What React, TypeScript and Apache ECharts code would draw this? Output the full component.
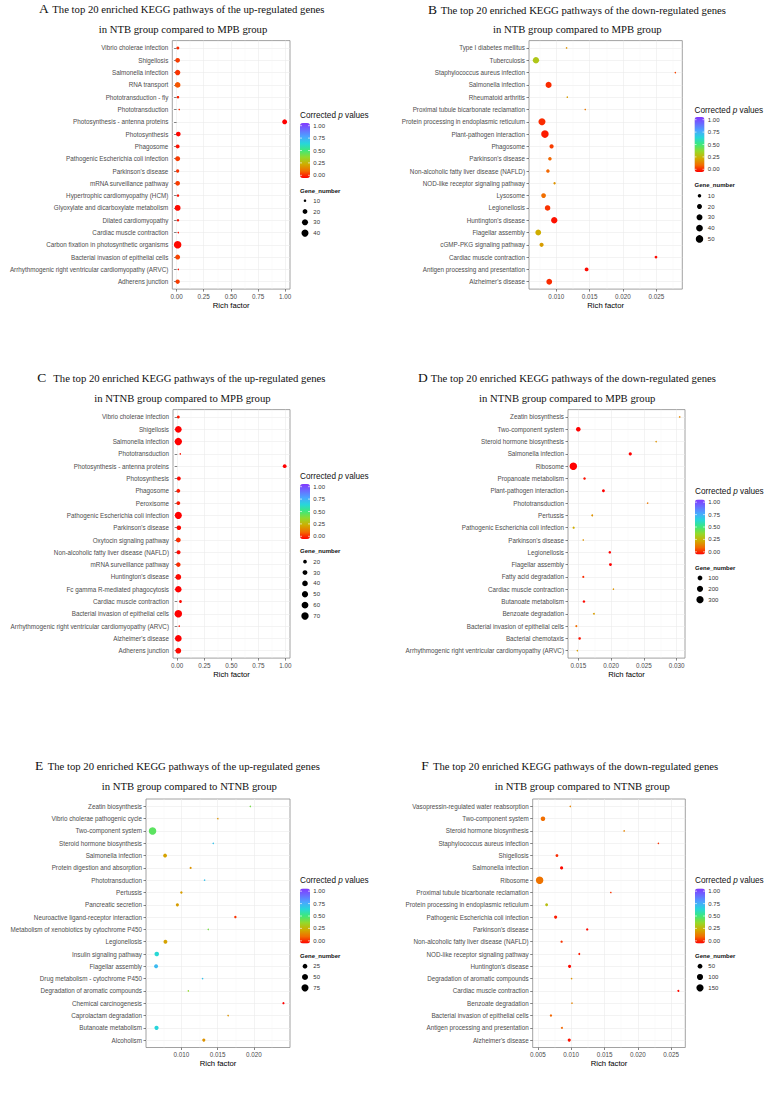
import React, { useEffect, useRef } from 'react';
import * as echarts from 'echarts';

// ---------- Panel A ----------
const catsA = ['Vibrio cholerae infection', 'Shigellosis', 'Salmonella infection', 'RNA transport', 'Phototransduction - fly', 'Phototransduction', 'Photosynthesis - antenna proteins', 'Photosynthesis', 'Phagosome', 'Pathogenic Escherichia coli infection', "Parkinson's disease", 'mRNA surveillance pathway', 'Hypertrophic cardiomyopathy (HCM)', 'Glyoxylate and dicarboxylate metabolism', 'Dilated cardiomyopathy', 'Cardiac muscle contraction', 'Carbon fixation in photosynthetic organisms', 'Bacterial invasion of epithelial cells', 'Arrhythmogenic right ventricular cardiomyopathy (ARVC)', 'Adherens junction'];
const richA = [0.012, 0.010, 0.010, 0.010, 0.013, 0.025, 0.995, 0.016, 0.010, 0.010, 0.010, 0.010, 0.013, 0.010, 0.013, 0.016, 0.010, 0.010, 0.016, 0.010];
const padjA = [0.05, 0.07, 0.06, 0.1, 0.04, 0.05, 0.0, 0.005, 0.02, 0.07, 0.06, 0.07, 0.02, 0.01, 0.02, 0.02, 0.01, 0.08, 0.02, 0.07];
const genesA = [11, 19, 24, 26, 10, 9, 21, 19, 15, 21, 12, 19, 10, 28, 10, 9, 45, 21, 9, 17];
const ticksA = [0, 0.25, 0.5, 0.75, 1];
const breaksA = [10, 20, 30, 40];

// ---------- Panel B ----------
const catsB = ['Type I diabetes mellitus', 'Tuberculosis', 'Staphylococcus aureus infection', 'Salmonella infection', 'Rheumatoid arthritis', 'Proximal tubule bicarbonate reclamation', 'Protein processing in endoplasmic reticulum', 'Plant-pathogen interaction', 'Phagosome', "Parkinson's disease", 'Non-alcoholic fatty liver disease (NAFLD)', 'NOD-like receptor signaling pathway', 'Lysosome', 'Legionellosis', "Huntington's disease", 'Flagellar assembly', 'cGMP-PKG signaling pathway', 'Cardiac muscle contraction', 'Antigen processing and presentation', "Alzheimer's disease"];
const richB = [0.01155, 0.00696, 0.02785, 0.00885, 0.01165, 0.01435, 0.00786, 0.0083, 0.0093, 0.00905, 0.00875, 0.00975, 0.0081, 0.0087, 0.0097, 0.0073, 0.0078, 0.02495, 0.01455, 0.00895];
const padjB = [0.2, 0.32, 0.08, 0.05, 0.22, 0.15, 0.05, 0.03, 0.07, 0.12, 0.12, 0.2, 0.13, 0.06, 0.02, 0.25, 0.22, 0.01, 0.01, 0.05];
const genesB = [5, 35, 5, 31, 5, 5, 43, 50, 14, 10, 10, 6, 18, 25, 35, 28, 14, 7, 12, 28];
const ticksB = [0.01, 0.015, 0.02, 0.025];
const breaksB = [10, 20, 30, 40, 50];

// ---------- Panel C ----------
const catsC = ['Vibrio cholerae infection', 'Shigellosis', 'Salmonella infection', 'Phototransduction', 'Photosynthesis - antenna proteins', 'Photosynthesis', 'Phagosome', 'Peroxisome', 'Pathogenic Escherichia coli infection', "Parkinson's disease", 'Oxytocin signaling pathway', 'Non-alcoholic fatty liver disease (NAFLD)', 'mRNA surveillance pathway', "Huntington's disease", 'Fc gamma R-mediated phagocytosis', 'Cardiac muscle contraction', 'Bacterial invasion of epithelial cells', 'Arrhythmogenic right ventricular cardiomyopathy (ARVC)', "Alzheimer's disease", 'Adherens junction'];
const richC = [0.01, 0.01, 0.01, 0.028, 0.994, 0.015, 0.01, 0.01, 0.01, 0.015, 0.01, 0.012, 0.01, 0.01, 0.01, 0.03, 0.01, 0.018, 0.01, 0.01];
const padjC = [0.03, 0.0, 0.0, 0.02, 0.0, 0.01, 0.03, 0.03, 0.0, 0.01, 0.05, 0.01, 0.05, 0.01, 0.0, 0.01, 0.0, 0.02, 0.0, 0.01];
const genesC = [15, 57, 70, 12, 21, 21, 21, 21, 63, 27, 30, 23, 27, 42, 53, 15, 72, 12, 57, 42];
const ticksC = [0, 0.25, 0.5, 0.75, 1];
const breaksC = [20, 30, 40, 50, 60, 70];

// ---------- Panel D ----------
const catsD = ['Zeatin biosynthesis', 'Two-component system', 'Steroid hormone biosynthesis', 'Salmonella infection', 'Ribosome', 'Propanoate metabolism', 'Plant-pathogen interaction', 'Phototransduction', 'Pertussis', 'Pathogenic Escherichia coli infection', "Parkinson's disease", 'Legionellosis', 'Flagellar assembly', 'Fatty acid degradation', 'Cardiac muscle contraction', 'Butanoate metabolism', 'Benzoate degradation', 'Bacterial invasion of epithelial cells', 'Bacterial chemotaxis', 'Arrhythmogenic right ventricular cardiomyopathy (ARVC)'];
const richD = [0.03045, 0.0150, 0.02686, 0.02292, 0.01424, 0.01595, 0.01883, 0.02556, 0.01712, 0.01429, 0.01576, 0.0198, 0.0199, 0.01576, 0.02035, 0.01586, 0.01738, 0.0147, 0.0152, 0.01485];
const padjD = [0.18, 0.0, 0.2, 0.0, 0.0, 0.02, 0.0, 0.15, 0.2, 0.25, 0.2, 0.0, 0.0, 0.05, 0.2, 0.01, 0.22, 0.13, 0.02, 0.22];
const genesD = [3, 85, 3, 28, 330, 13, 20, 3, 4, 7, 3, 13, 20, 7, 3, 13, 4, 7, 13, 3];
const ticksD = [0.015, 0.02, 0.025, 0.03];
const breaksD = [100, 200, 300];

// ---------- Panel E ----------
const catsE = ['Zeatin biosynthesis', 'Vibrio cholerae pathogenic cycle', 'Two-component system', 'Steroid hormone biosynthesis', 'Salmonella infection', 'Protein digestion and absorption', 'Phototransduction', 'Pertussis', 'Pancreatic secretion', 'Neuroactive ligand-receptor interaction', 'Metabolism of xenobiotics by cytochrome P450', 'Legionellosis', 'Insulin signaling pathway', 'Flagellar assembly', 'Drug metabolism - cytochrome P450', 'Degradation of aromatic compounds', 'Chemical carcinogenesis', 'Caprolactam degradation', 'Butanoate metabolism', 'Alcoholism'];
const richE = [0.01952, 0.01503, 0.00602, 0.0144, 0.00775, 0.01128, 0.0132, 0.0100, 0.00945, 0.01746, 0.01371, 0.0078, 0.0066, 0.00651, 0.01293, 0.01096, 0.0241, 0.01646, 0.00657, 0.0131];
const padjE = [0.42, 0.2, 0.46, 0.68, 0.23, 0.2, 0.68, 0.22, 0.22, 0.06, 0.42, 0.23, 0.62, 0.7, 0.68, 0.38, 0.0, 0.2, 0.63, 0.2];
const genesE = [3, 3, 85, 3, 16, 4, 3, 5, 9, 5, 3, 16, 24, 16, 3, 3, 4, 3, 20, 9];
const ticksE = [0.01, 0.015, 0.02];
const breaksE = [25, 50, 75];

// ---------- Panel F ----------
const catsF = ['Vasopressin-regulated water reabsorption', 'Two-component system', 'Steroid hormone biosynthesis', 'Staphylococcus aureus infection', 'Shigellosis', 'Salmonella infection', 'Ribosome', 'Proximal tubule bicarbonate reclamation', 'Protein processing in endoplasmic reticulum', 'Pathogenic Escherichia coli infection', "Parkinson's disease", 'Non-alcoholic fatty liver disease (NAFLD)', 'NOD-like receptor signaling pathway', "Huntington's disease", 'Degradation of aromatic compounds', 'Cardiac muscle contraction', 'Benzoate degradation', 'Bacterial invasion of epithelial cells', 'Antigen processing and presentation', "Alzheimer's disease"];
const richF = [0.00985, 0.00575, 0.01795, 0.0231, 0.00785, 0.00855, 0.00525, 0.01595, 0.0063, 0.00765, 0.0124, 0.00855, 0.0112, 0.00975, 0.01005, 0.0261, 0.0101, 0.00695, 0.0086, 0.0097];
const padjF = [0.17, 0.13, 0.17, 0.06, 0.05, 0.01, 0.14, 0.06, 0.3, 0.03, 0.01, 0.06, 0.03, 0.01, 0.2, 0.01, 0.17, 0.12, 0.12, 0.02];
const genesF = [4, 46, 4, 4, 12, 16, 165, 4, 12, 16, 7, 7, 5, 16, 4, 5, 4, 7, 5, 16];
const ticksF = [0.005, 0.01, 0.015, 0.02, 0.025];
const breaksF = [50, 100, 150];

const colorBreaks = [1, 0.75, 0.5, 0.25, 0];
const PALETTE = ['#ff0000', '#f26b00', '#cfad00', '#95d92a', '#3fe87a', '#27d7d9', '#4aa6ff', '#6a6cff', '#8338ff'];

const SANS = 'Liberation Sans, Arial, sans-serif';
const SERIF = 'Liberation Serif, Times New Roman, serif';

const H = 248.5;
const layA = { left: 172.3, top: 40.6, width: 117.7, height: H, letterX: 39, line1X: 52.3, y1: 8.5, line2X: 98.7, y2: 28.5, legX: 300, legTitleY: 115.7, barTop: 123, gnTitleY: 190.7, gnY0: 200.7, gnStep: 10.8 };
const layB = { left: 529, top: 40.6, width: 153.3, height: H, letterX: 428, line1X: 440.7, y1: 9, line2X: 493, y2: 29, legX: 694.5, legTitleY: 110.3, barTop: 117, gnTitleY: 185, gnY0: 195.7, gnStep: 10.8 };
const layC = { left: 173, top: 409.6, width: 117, height: H, letterX: 37.3, line1X: 53.3, y1: 377.5, line2X: 94.3, y2: 397.5, legX: 300, legTitleY: 476.5, barTop: 484, gnTitleY: 551, gnY0: 561.7, gnStep: 10.85 };
const layD = { left: 568, top: 409.6, width: 117, height: H, letterX: 418, line1X: 430.7, y1: 377.5, line2X: 479, y2: 397.5, legX: 695, legTitleY: 491, barTop: 499.5, gnTitleY: 567.5, gnY0: 578, gnStep: 10.85 };
const layE = { left: 146, top: 799, width: 144, height: H, letterX: 35, line1X: 47.7, y1: 765.5, line2X: 101.7, y2: 785.5, legX: 300, legTitleY: 880.5, barTop: 888.5, gnTitleY: 955.5, gnY0: 966.2, gnStep: 10.8 };
const layF = { left: 532.7, top: 799, width: 152.6, height: H, letterX: 421.3, line1X: 433, y1: 765.5, line2X: 494.7, y2: 785.5, legX: 695, legTitleY: 880.5, barTop: 888.5, gnTitleY: 955.5, gnY0: 966.2, gnStep: 10.8 };

const UP = 'The top 20 enriched KEGG pathways of the up-regulated genes';
const DOWN = 'The top 20 enriched KEGG pathways of the down-regulated genes';

const panels = [
  { letter: 'A', line1: UP, line2: 'in NTB group compared to MPB group', cats: catsA, rich: richA, padj: padjA, genes: genesA, ticks: ticksA, digits: 2, breaks: breaksA, lay: layA },
  { letter: 'B', line1: DOWN, line2: 'in NTB group compared to MPB group', cats: catsB, rich: richB, padj: padjB, genes: genesB, ticks: ticksB, digits: 3, breaks: breaksB, lay: layB },
  { letter: 'C', line1: UP, line2: 'in NTNB group compared to MPB group', cats: catsC, rich: richC, padj: padjC, genes: genesC, ticks: ticksC, digits: 2, breaks: breaksC, lay: layC },
  { letter: 'D', line1: DOWN, line2: 'in NTNB group compared to MPB group', cats: catsD, rich: richD, padj: padjD, genes: genesD, ticks: ticksD, digits: 3, breaks: breaksD, lay: layD },
  { letter: 'E', line1: UP, line2: 'in NTB group compared to NTNB group', cats: catsE, rich: richE, padj: padjE, genes: genesE, ticks: ticksE, digits: 3, breaks: breaksE, lay: layE },
  { letter: 'F', line1: DOWN, line2: 'in NTB group compared to NTNB group', cats: catsF, rich: richF, padj: padjF, genes: genesF, ticks: ticksF, digits: 3, breaks: breaksF, lay: layF },
];

function txt(x: number, y: number, text: string, opts: any = {}) {
  return {
    type: 'text', x, y, silent: true,
    style: {
      text, fontSize: 6, fontFamily: SANS, fill: '#222',
      align: 'left', textAlign: 'left', verticalAlign: 'middle', textVerticalAlign: 'middle',
      ...opts,
    },
  };
}

export default function App() {
  const ref = useRef<HTMLDivElement>(null);
  useEffect(() => {
    if (!ref.current) return;
    const chart = echarts.init(ref.current, null, { renderer: 'svg' });
    const grid: any[] = [];
    const xAxis: any[] = [];
    const yAxis: any[] = [];
    const series: any[] = [];
    const visualMap: any[] = [];
    const graphic: any[] = [];

    panels.forEach((p, i) => {
      const L = p.lay;
      const n = p.cats.length;
      const r0 = Math.min(...p.rich);
      const r1 = Math.max(...p.rich);
      const pad = (r1 - r0) * 0.05;
      const xmin = r0 - pad;
      const xmax = r1 + pad;
      const gmin = Math.min(...p.genes);
      const gmax = Math.max(...p.genes);
      const sz = (g: number) => 1.5 + 6 * Math.sqrt(Math.max(0, (g - gmin) / (gmax - gmin)));

      grid.push({ left: L.left, top: L.top, width: L.width, height: L.height, show: true, borderColor: '#8a8a8a', borderWidth: 0.8, backgroundColor: '#ffffff' });

      const step = p.ticks[1] - p.ticks[0];
      const minor: number[] = [];
      for (let k = -1; k < p.ticks.length; k++) {
        const v = p.ticks[0] + (k + 0.5) * step;
        if (v > xmin && v < xmax) minor.push(v);
      }
      xAxis.push({
        type: 'value', gridIndex: i, min: xmin, max: xmax, position: 'bottom',
        name: 'Rich factor', nameLocation: 'middle', nameGap: 12,
        nameTextStyle: { fontSize: 7.7, color: '#000', fontFamily: SANS },
        axisLine: { show: false },
        axisTick: { show: true, length: 2.5, customValues: p.ticks, lineStyle: { color: '#333', width: 0.6 } },
        axisLabel: { customValues: p.ticks, formatter: (v: number) => v.toFixed(p.digits), fontSize: 6.3, color: '#4d4d4d', margin: 4, fontFamily: SANS },
        splitLine: { show: true, lineStyle: { color: '#ebebeb', width: 0.6 } },
      });
      xAxis.push({
        type: 'value', gridIndex: i, min: xmin, max: xmax, position: 'top',
        axisLine: { show: false },
        axisTick: { show: false, customValues: minor },
        axisLabel: { show: false, customValues: minor },
        splitLine: { show: true, lineStyle: { color: '#f3f3f3', width: 0.4 } },
      });
      const yt = Array.from({ length: n }, (_, k) => k + 1);
      yAxis.push({
        type: 'value', gridIndex: i, min: 0.4, max: n + 0.6,
        axisLine: { show: false },
        axisTick: { show: true, length: 2.5, customValues: yt, lineStyle: { color: '#333', width: 0.6 } },
        axisLabel: { customValues: yt, formatter: (v: number) => p.cats[n - Math.round(v)] || '', fontSize: 6.3, color: '#4d4d4d', margin: 4, fontFamily: SANS },
        splitLine: { show: true, lineStyle: { color: '#ebebeb', width: 0.6 } },
      });
      series.push({
        type: 'scatter', xAxisIndex: 2 * i, yAxisIndex: i, silent: true,
        data: p.rich.map((r, k) => [r, n - k, p.padj[k], p.genes[k]]),
        symbolSize: (val: number[]) => sz(val[3]),
        itemStyle: { opacity: 1 },
      });
      visualMap.push({
        type: 'continuous', seriesIndex: i, dimension: 2, min: 0, max: 1,
        inRange: { color: PALETTE }, calculable: false, show: true, hoverLink: false,
        left: L.legX, top: L.barTop, itemWidth: 10, itemHeight: 55, padding: 0, orient: 'vertical',
      });

      // titles
      graphic.push(txt(L.letterX, L.y1, p.letter, { fontSize: 13.5, fontFamily: SERIF, fill: '#111' }));
      graphic.push(txt(L.line1X, L.y1 + 0.5, p.line1, { fontSize: 10.7, fontFamily: SERIF, fill: '#111' }));
      graphic.push(txt(L.line2X, L.y2, p.line2, { fontSize: 10.7, fontFamily: SERIF, fill: '#111' }));

      // colour legend
      graphic.push({
        type: 'text', x: L.legX, y: L.legTitleY, silent: true,
        style: {
          text: '{n|Corrected }{i|p}{n| values}', fontFamily: SANS, fontSize: 8.2, fill: '#111',
          align: 'left', textAlign: 'left', verticalAlign: 'middle', textVerticalAlign: 'middle',
          rich: { n: { fontSize: 8.2, fontFamily: SANS, fill: '#111' }, i: { fontSize: 8.2, fontFamily: SANS, fontStyle: 'italic', fill: '#111' } },
        },
      });
      colorBreaks.forEach((b) => {
        const y = L.barTop + 2.7 + (1 - b) * 49.6;
        graphic.push(txt(L.legX + 13.3, y, b.toFixed(2), { fontSize: 6, fill: '#333' }));
        graphic.push({ type: 'line', silent: true, z: 100, shape: { x1: L.legX, y1: y, x2: L.legX + 2, y2: y }, style: { stroke: '#fff', lineWidth: 0.6 } });
        graphic.push({ type: 'line', silent: true, z: 100, shape: { x1: L.legX + 8, y1: y, x2: L.legX + 10, y2: y }, style: { stroke: '#fff', lineWidth: 0.6 } });
      });
      // size legend
      graphic.push(txt(L.legX, L.gnTitleY, 'Gene_number', { fontSize: 6, fontWeight: 'bold', fill: '#111' }));
      p.breaks.forEach((b, k) => {
        const y = L.gnY0 + k * L.gnStep;
        graphic.push({ type: 'circle', silent: true, shape: { cx: L.legX + 5, cy: y, r: sz(b) / 2 }, style: { fill: '#000' } });
        graphic.push(txt(L.legX + 13.3, y, String(b), { fontSize: 6, fill: '#333' }));
      });
    });

    chart.setOption({
      animation: false,
      backgroundColor: '#ffffff',
      grid, xAxis, yAxis, series, visualMap, graphic,
    });
    return () => chart.dispose();
  }, []);
  return <div ref={ref} style={{ position: 'absolute', left: 0, top: 0, width: 765, height: 1095, background: '#fff' }} />;
}
